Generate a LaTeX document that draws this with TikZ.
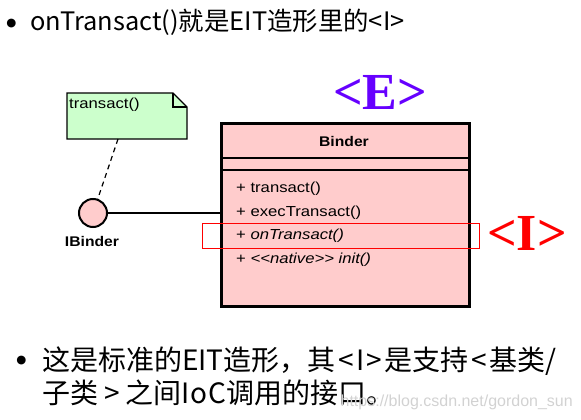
\documentclass[tikz,border=0pt]{standalone}
\usepackage{fontspec}
\setmainfont{Liberation Sans}
\newfontfamily\cjk{Noto Sans CJK SC}
\newfontfamily\serifb{Liberation Serif}
\newfontfamily\dejavu{DejaVu Sans}
\definecolor{pinkfill}{HTML}{FFCCCC}
\definecolor{notegreen}{HTML}{CCFFCC}
\definecolor{epurple}{HTML}{6600FF}
\newcommand{\wider}[1]{\scalebox{1.15}[1]{#1}}
\newcommand{\widerb}[1]{\scalebox{1.12}[1]{#1}}
\newcommand{\ab}[1]{\hspace{2.5pt}#1\hspace{2.5pt}}
\newcommand{\abw}[1]{\hspace{6pt}#1\hspace{6pt}}
\begin{document}
\begin{tikzpicture}[x=1pt,y=-1pt,
  umltext/.style={font=\fontsize{14.5}{16}\selectfont, inner sep=0pt},
  umlbold/.style={font=\bfseries\fontsize{14}{16}\selectfont, inner sep=0pt},
  method/.style={umltext, anchor=west},
  bigtext/.style={font=\cjk\fontsize{25.4}{30}\selectfont, inner sep=0pt},
  bodytext/.style={font=\cjk\fontsize{28}{33}\selectfont, inner sep=0pt},
  bulletmark/.style={font=\dejavu\fontsize{11.5}{12}\selectfont, inner sep=0pt},
  marker/.style={font=\serifb\bfseries\fontsize{52}{52}\selectfont, inner sep=0pt}
]
\useasboundingbox (0,0) rectangle (581,420);
% title line
\node[bulletmark] (b1) at (11.5,24) {●};
\node[bigtext, anchor=west] (title) at (30,22) {onTransact()就是EIT造形里的<I>};
% class box
\node[draw, line width=2.5pt, fill=pinkfill, minimum width=248pt, minimum height=183pt, anchor=north west, inner sep=0pt] (binder) at (220,122) {};
\draw[line width=1.5pt] (220,158) -- (468,158);
\draw[line width=1.5pt] (220,170) -- (468,170);
\node[umlbold] (bname) at (344,141) {\widerb{Binder}};
\node[method] (m1) at (236,189) {\wider{+ transact()}};
\node[method] (m2) at (236,212.5) {\wider{+ execTransact()}};
\node[method] (m3) at (236,236) {\wider{+ \textit{onTransact()}}};
\node[method] (m4) at (236,259.5) {\wider{+ \textit{<\kern0pt<native>\kern0pt> init()}}};
% red highlight
\draw[red, line width=0.8pt] (202,223) rectangle (479,248);
% note
\draw[line width=1.2pt, fill=notegreen] (67,93) -- (173,93) -- (187,107) -- (187,139) -- (67,139) -- cycle;
\draw[line width=1.2pt] (173,93) -- (173,107) -- (187,107);
\node[method] (note) at (69,105) {\wider{transact()}};
\coordinate (noteb) at (118,139);
% interface
\node[circle, draw, line width=2pt, fill=pinkfill, minimum size=28pt, inner sep=0pt] (ibinder) at (93,213) {};
\node[umlbold] (ilabel) at (92,241) {\widerb{IBinder}};
\draw[line width=1.2pt, dashed, dash pattern=on 5pt off 4pt] (noteb) -- (ibinder);
\draw[line width=1.2pt] (ibinder.east) -- (ibinder.east -| binder.west);
% markers
\node[marker, text=epurple] (E) at (380,92) {<E>};
\node[marker, text=red] (I) at (527,233) {<I>};
% bottom text
\node[bulletmark] (b2) at (21.5,361) {●};
\node[bodytext, anchor=base west, align=left] (body) at (42,403) {这是标准的EIT造形，其\ab{<}I\ab{>}是支持\ab{<}基类/\\子类\abw{>}之间I\kern1pt o\kern1pt C调用的接口。};
\node[anchor=east, text=gray!35, font=\fontsize{16}{18}\selectfont, inner sep=0pt] (wm) at (573,402) {https://blog.csdn.net/gordon\_sun};
\end{tikzpicture}
\end{document}
